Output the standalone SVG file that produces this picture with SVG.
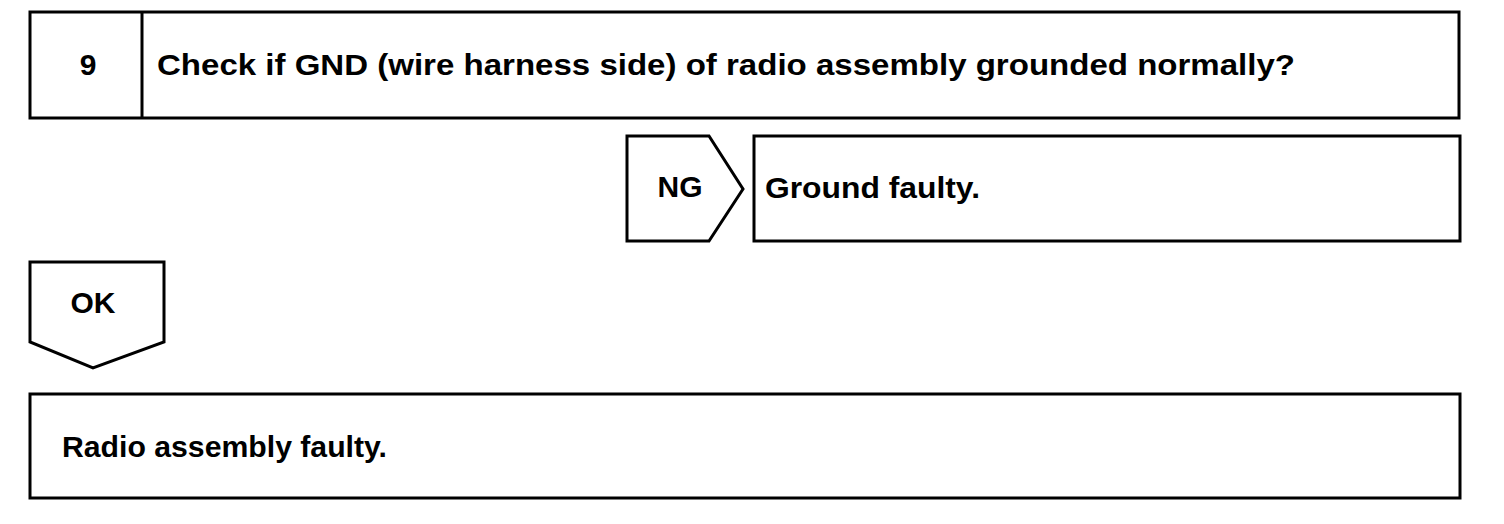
<svg xmlns="http://www.w3.org/2000/svg" width="1504" height="524" viewBox="0 0 1504 524">
<style>
.box{fill:#fff;stroke:#000;stroke-width:3;stroke-linejoin:miter}
.t{font-family:"Liberation Sans",Arial,sans-serif;font-weight:bold;font-size:30px;fill:#000}
.c{text-anchor:middle}
</style>
<rect width="1504" height="524" fill="#fff"/>
<g id="step9">
<rect class="box" x="30" y="12" width="1429" height="106"/>
<line x1="142" y1="12" x2="142" y2="118" stroke="#000" stroke-width="3"/>
<text class="t c" x="88" y="75">9</text>
<text class="t" x="157" y="75" textLength="1138" lengthAdjust="spacingAndGlyphs">Check if GND (wire harness side) of radio assembly grounded normally?</text>
</g>
<g id="connectors">
<g id="ng">
<polygon class="box" points="627,136 709,136 743,189 709,241 627,241"/>
<text class="t c" x="680" y="197">NG</text>
</g>
<g id="ok">
<polygon class="box" points="30,262 164,262 164,342 93,368 30,342"/>
<text class="t c" x="93" y="313">OK</text>
</g>
</g>
<g id="ground-faulty">
<rect class="box" x="754" y="136" width="706" height="105"/>
<text class="t" x="765" y="198" textLength="215" lengthAdjust="spacingAndGlyphs">Ground faulty.</text>
</g>
<g id="radio-faulty">
<rect class="box" x="30" y="394" width="1430" height="104"/>
<text class="t" x="62" y="457" textLength="325" lengthAdjust="spacingAndGlyphs">Radio assembly faulty.</text>
</g>
</svg>
